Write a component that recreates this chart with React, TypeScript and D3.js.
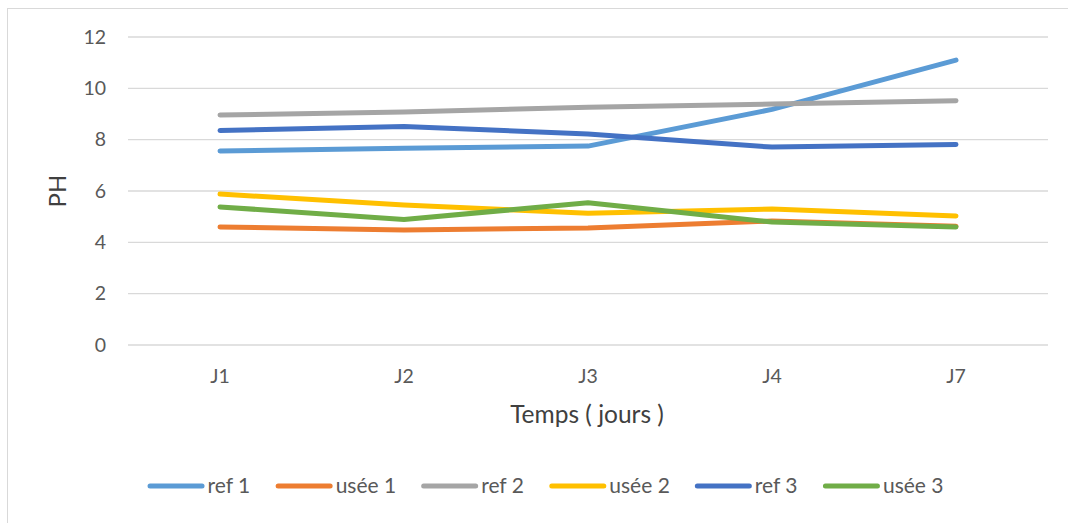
import React from "react";
import * as d3 from "d3";

const categories = ["J1", "J2", "J3", "J4", "J7"];
const ref1 = [7.56, 7.67, 7.75, 9.18, 11.1];
const usee1 = [4.6, 4.48, 4.56, 4.83, 4.63];
const ref2 = [8.96, 9.08, 9.26, 9.39, 9.52];
const usee2 = [5.88, 5.45, 5.13, 5.3, 5.03];
const ref3 = [8.36, 8.51, 8.22, 7.71, 7.81];
const usee3 = [5.38, 4.89, 5.54, 4.79, 4.6];
const yTicks = [0, 2, 4, 6, 8, 10, 12];
const seriesNames = ["ref 1", "usée 1", "ref 2", "usée 2", "ref 3", "usée 3"];
const seriesColors = ["#5b9bd5", "#ed7d31", "#a5a5a5", "#ffc000", "#4472c4", "#70ad47"];
const seriesValues = [ref1, usee1, ref2, usee2, ref3, usee3];

const W = 1068;
const H = 523;
const FONT = "Lato, 'Open Sans', sans-serif";
const TXT = "#595959";

function measure(text: string, size: number): number {
  if (typeof document === "undefined") return text.length * size * 0.5;
  const c = document.createElement("canvas");
  const ctx = c.getContext("2d");
  if (!ctx) return text.length * size * 0.5;
  ctx.font = `${size}px ${FONT}`;
  return ctx.measureText(text).width;
}

export default function App() {
  const left = 128, right = 1048, top = 37, bottom = 345;
  const x = d3.scaleBand<string>().domain(categories).range([left, right]);
  const y = d3.scaleLinear().domain([0, 12]).range([bottom, top]);
  const line = d3
    .line<number>()
    .x((_, i) => (x(categories[i]) as number) + x.bandwidth() / 2)
    .y((d) => y(d));

  const legendSize = 21;
  const swatch = 57;
  const gap = 3;
  const itemGap = 25;
  const widths = seriesNames.map((n) => swatch + gap + measure(n, legendSize));
  const total = d3.sum(widths) + itemGap * (seriesNames.length - 1);
  let cx = 545.5 - total / 2;
  const legendItems = seriesNames.map((n, i) => {
    const item = { name: n, x: cx, color: seriesColors[i] };
    cx += widths[i] + itemGap;
    return item;
  });
  const legendY = 486;

  return (
    <svg width={W} height={H} style={{ position: "absolute", left: 0, top: 0, background: "#fff" }}>
      <rect x={7.5} y={8.5} width={W} height={H} fill="#fff" stroke="#d9d9d9" strokeWidth={1} />
      {yTicks.map((t) => (
        <g key={t}>
          <line x1={left} x2={right} y1={y(t)} y2={y(t)} stroke="#d9d9d9" strokeWidth={1.3} />
          <text x={106} y={y(t)} dy="0.35em" textAnchor="end" fontFamily={FONT} fontSize={19.5} fill={TXT}>
            {t}
          </text>
        </g>
      ))}
      {categories.map((c) => (
        <text
          key={c}
          x={(x(c) as number) + x.bandwidth() / 2}
          y={383}
          textAnchor="middle"
          fontFamily={FONT}
          fontSize={19.5}
          fill={TXT}
        >
          {c}
        </text>
      ))}
      <text x={587} y={423} textAnchor="middle" fontFamily={FONT} fontSize={24.5} fill="#404040">
        Temps ( jours )
      </text>
      <text
        transform={`translate(66, ${(top + bottom) / 2}) rotate(-90)`}
        textAnchor="middle"
        fontFamily={FONT}
        fontSize={24}
        fill="#404040"
      >
        PH
      </text>
      {seriesValues.map((vals, i) => (
        <path
          key={seriesNames[i]}
          d={line(vals) || ""}
          fill="none"
          stroke={seriesColors[i]}
          strokeWidth={5}
          strokeLinecap="round"
          strokeLinejoin="round"
        />
      ))}
      {legendItems.map((it) => (
        <g key={it.name}>
          <line
            x1={it.x + 2.5}
            x2={it.x + swatch - 2.5}
            y1={legendY}
            y2={legendY}
            stroke={it.color}
            strokeWidth={5}
            strokeLinecap="round"
          />
          <text x={it.x + swatch + gap} y={legendY} dy="0.35em" fontFamily={FONT} fontSize={legendSize} fill={TXT}>
            {it.name}
          </text>
        </g>
      ))}
    </svg>
  );
}
